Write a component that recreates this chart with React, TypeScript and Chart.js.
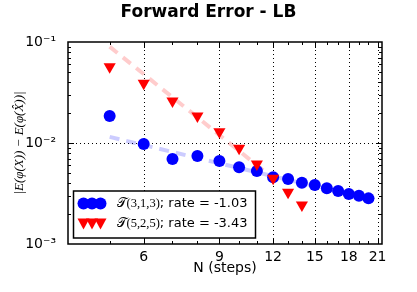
import React, { useEffect, useRef } from 'react';
import { Chart, registerables } from 'chart.js';

Chart.register(...registerables);

// ---- data ----
const stepsBlue = [5, 6, 7, 8, 9, 10, 11, 12, 13, 14, 15, 16, 17, 18, 19, 20];
const errBlue = [0.0185, 0.0098, 0.00695, 0.00743, 0.00663, 0.00574, 0.00528, 0.00457, 0.00441, 0.00405, 0.00384, 0.00356, 0.00335, 0.00313, 0.00301, 0.00283];
const stepsRed = [5, 6, 7, 8, 9, 10, 11, 12, 13, 14];
const errRed = [0.0569, 0.039, 0.0261, 0.0185, 0.01294, 0.00887, 0.00619, 0.00447, 0.00325, 0.00243];
const fitBlueX = [5, 20];
const fitBlueY = [0.0115, 0.00278];
const fitRedX = [5, 12];
const fitRedY = [0.0899, 0.00447];

const xTickValues = [4, 5, 6, 7, 8, 9, 10, 11, 12, 13, 14, 15, 16, 17, 18, 19, 20, 21];
const xLabeledTicks = [6, 9, 12, 15, 18, 21];
const yMajorTicks = [0.001, 0.01, 0.1];
const yMajorLabels = ['10\u207B\u00B3', '10\u207B\u00B2', '10\u207B\u00B9'];
const yGridTicks = [0.01];
const yMinorMultipliers = [2, 3, 4, 5, 6, 7, 8, 9];
const legendNames = ['\u{1D4AF}(3,1,3)', '\u{1D4AF}(5,2,5)'];
const legendRates = ['; rate = -1.03', '; rate = -3.43'];
const titleText = 'Forward Error - LB';
const xTitle = 'N (steps)';
const yTitle = '|E(\u03C6(X)) \u2212 E(\u03C6(X\u0302))|';

const BLUE = '#0000ff';
const RED = '#ff0000';

const decorPlugin = {
  id: 'decor',
  beforeDatasetsDraw(chart: any) {
    const { ctx, chartArea: a, scales } = chart;
    const x = scales.x, y = scales.y;
    ctx.save();
    ctx.strokeStyle = '#000';
    ctx.lineWidth = 1;
    ctx.setLineDash([1, 3]);
    for (const v of xLabeledTicks) {
      const px = Math.round(x.getPixelForValue(v)) + 0.5;
      ctx.beginPath();
      ctx.moveTo(px, a.top);
      ctx.lineTo(px, a.bottom);
      ctx.stroke();
    }
    for (const v of yGridTicks) {
      const py = Math.round(y.getPixelForValue(v)) + 0.5;
      ctx.beginPath();
      ctx.moveTo(a.left, py);
      ctx.lineTo(a.right, py);
      ctx.stroke();
    }
    ctx.restore();
  },
  afterDraw(chart: any) {
    const { ctx, chartArea: a, scales } = chart;
    const x = scales.x, y = scales.y;
    ctx.save();
    // ticks (inward)
    ctx.strokeStyle = '#000';
    ctx.lineWidth = 1;
    ctx.setLineDash([]);
    for (const v of xTickValues) {
      if (v <= x.min || v >= x.max) continue;
      const px = Math.round(x.getPixelForValue(v)) + 0.5;
      const len = xLabeledTicks.includes(v) ? 6 : 3;
      ctx.beginPath();
      ctx.moveTo(px, a.bottom);
      ctx.lineTo(px, a.bottom - len);
      ctx.moveTo(px, a.top);
      ctx.lineTo(px, a.top + len);
      ctx.stroke();
    }
    for (const d of yMajorTicks) {
      const vals = [d, ...yMinorMultipliers.map((m) => m * d)];
      vals.forEach((v, i) => {
        if (v <= y.min * 1.0001 || v >= y.max * 0.9999) return;
        const py = Math.round(y.getPixelForValue(v)) + 0.5;
        const len = i === 0 ? 6 : 3;
        ctx.beginPath();
        ctx.moveTo(a.left, py);
        ctx.lineTo(a.left + len, py);
        ctx.moveTo(a.right, py);
        ctx.lineTo(a.right - len, py);
        ctx.stroke();
      });
    }
    // frame
    ctx.lineWidth = 1.5;
    ctx.strokeRect(a.left, a.top, a.right - a.left, a.bottom - a.top);

    // title
    ctx.fillStyle = '#000';
    ctx.font = 'bold 17px "DejaVu Sans"';
    ctx.textAlign = 'center';
    ctx.textBaseline = 'middle';
    ctx.fillText(titleText, chart.width / 2, 13);

    // legend
    const lx = a.left + 5.5, lw = 182, lh = 47;
    const ly = a.bottom - 6 - lh;
    ctx.fillStyle = '#fff';
    ctx.fillRect(lx, ly, lw, lh);
    ctx.lineWidth = 1.5;
    ctx.strokeStyle = '#000';
    ctx.strokeRect(lx, ly, lw, lh);
    const rows = [ly + 12.5, ly + 32.5];
    const mxs = [lx + 10, lx + 18.5, lx + 27];
    for (let r = 0; r < 2; r++) {
      const cy = rows[r];
      ctx.fillStyle = r === 0 ? BLUE : RED;
      for (const mx of mxs) {
        ctx.beginPath();
        if (r === 0) {
          ctx.arc(mx, cy, 6, 0, Math.PI * 2);
        } else {
          ctx.moveTo(mx - 6, cy - 5);
          ctx.lineTo(mx + 6, cy - 5);
          ctx.lineTo(mx, cy + 6);
          ctx.closePath();
        }
        ctx.fill();
      }
      ctx.fillStyle = '#000';
      ctx.textAlign = 'left';
      ctx.textBaseline = 'middle';
      let tx = lx + 43;
      ctx.font = '12.5px "Liberation Serif", "DejaVu Serif"';
      ctx.fillText(legendNames[r], tx, cy);
      tx += ctx.measureText(legendNames[r]).width;
      ctx.font = '13px "DejaVu Sans"';
      ctx.fillText(legendRates[r], tx, cy);
    }
    ctx.restore();
  },
};

export default function App() {
  const canvasRef = useRef<HTMLCanvasElement | null>(null);

  useEffect(() => {
    const canvas = canvasRef.current;
    if (!canvas) return;
    const toPts = (xs: number[], ys: number[]) => xs.map((v, i) => ({ x: v, y: ys[i] }));
    const chart = new Chart(canvas, {
      type: 'scatter',
      data: {
        datasets: [
          {
            label: 'T(5,2,5)',
            data: toPts(stepsRed, errRed),
            backgroundColor: RED,
            borderColor: RED,
            pointStyle: 'triangle',
            rotation: 180,
            pointRadius: 7,
            pointBorderWidth: 0,
            showLine: false,
            order: 0,
          },
          {
            label: 'T(3,1,3)',
            data: toPts(stepsBlue, errBlue),
            backgroundColor: BLUE,
            borderColor: BLUE,
            pointStyle: 'circle',
            pointRadius: 6,
            pointBorderWidth: 0,
            showLine: false,
            order: 1,
          },
          {
            label: 'fit red',
            data: toPts(fitRedX, fitRedY),
            showLine: true,
            borderColor: 'rgba(255,0,0,0.2)',
            borderWidth: 4,
            borderDash: [10, 7],
            pointRadius: 0,
            order: 2,
          },
          {
            label: 'fit blue',
            data: toPts(fitBlueX, fitBlueY),
            showLine: true,
            borderColor: 'rgba(0,0,255,0.2)',
            borderWidth: 4,
            borderDash: [10, 7],
            pointRadius: 0,
            order: 3,
          },
        ],
      },
      options: {
        responsive: false,
        maintainAspectRatio: false,
        animation: false,
        layout: { padding: { left: 0, right: 35, top: 42, bottom: 0 } },
        plugins: {
          legend: { display: false },
          title: { display: false },
          tooltip: { enabled: false },
        },
        scales: {
          x: {
            type: 'logarithmic',
            min: 4,
            max: 21.5,
            afterBuildTicks: (s: any) => {
              s.ticks = xTickValues.map((v) => ({ value: v }));
            },
            afterFit: (s: any) => {
              s.height = 48;
            },
            grid: { display: false, drawTicks: false },
            border: { display: false },
            ticks: {
              autoSkip: false,
              maxRotation: 0,
              minRotation: 0,
              padding: 5,
              color: '#000',
              font: { family: 'DejaVu Sans', size: 14 },
              callback: (v: any) => (xLabeledTicks.includes(Number(v)) ? String(v) : ''),
            },
            title: {
              display: true,
              text: xTitle,
              color: '#000',
              font: { family: 'DejaVu Sans', size: 14 },
              padding: { top: 0, bottom: 15 },
            },
          },
          y: {
            type: 'logarithmic',
            min: 0.001,
            max: 0.1,
            afterBuildTicks: (s: any) => {
              s.ticks = yMajorTicks.map((v) => ({ value: v }));
            },
            afterFit: (s: any) => {
              s.width = 68;
            },
            grid: { display: false, drawTicks: false },
            border: { display: false },
            ticks: {
              autoSkip: false,
              padding: 12,
              color: '#000',
              font: { family: 'DejaVu Sans', size: 14 },
              callback: (v: any) => {
                const i = yMajorTicks.indexOf(Number(v));
                return i >= 0 ? yMajorLabels[i] : '';
              },
            },
            title: {
              display: true,
              text: yTitle,
              color: '#000',
              font: { family: 'Liberation Serif', size: 13, style: 'italic' },
              padding: { top: 12, bottom: 0 },
            },
          },
        },
      },
      plugins: [decorPlugin],
    });
    return () => chart.destroy();
  }, []);

  return (
    <div style={{ position: 'fixed', left: 0, top: 0, width: 417, height: 292, background: '#fff' }}>
      <canvas ref={canvasRef} width={417} height={292} style={{ display: 'block' }} />
    </div>
  );
}
